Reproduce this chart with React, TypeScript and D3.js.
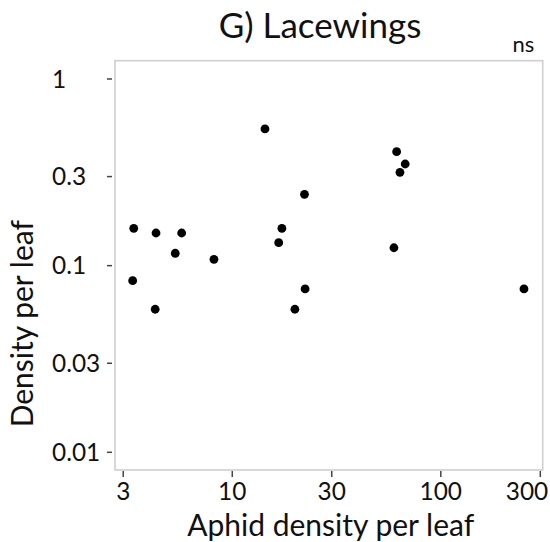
import React from "react";
import * as d3 from "d3";

const aphidDensity = [3.37, 3.33, 4.31, 4.27, 5.72, 5.33, 8.17, 14.35, 22.2, 17.3, 16.7, 22.35, 19.97, 61.4, 67.5, 63.7, 59.6, 250.5];
const lacewingDensity = [0.1585, 0.0831, 0.1496, 0.0584, 0.1496, 0.1165, 0.1081, 0.54, 0.241, 0.1585, 0.1327, 0.075, 0.0584, 0.4078, 0.3504, 0.3163, 0.1247, 0.075];
const xTicks = [3, 10, 30, 100, 300];
const xTickLabels = ["3", "10", "30", "100", "300"];
const yTicks = [1, 0.3, 0.1, 0.03, 0.01];
const yTickLabels = ["1", "0.3", "0.1", "0.03", "0.01"];
const title = "G) Lacewings";
const significance = "ns";
const xTitle = "Aphid density per leaf";
const yTitle = "Density per leaf";

const W = 550;
const H = 542;
const left = 115;
const right = 542.7;
const top = 60.7;
const bottom = 470;
const font = "Lato, 'Open Sans', sans-serif";

export default function App() {
  const x = d3.scaleLog().domain([2.74, 308]).range([left, right]);
  const y = d3.scaleLog().domain([0.00804, 1.253]).range([bottom, top]);
  const points = aphidDensity.map((a, i) => ({ a, l: lacewingDensity[i] }));

  return (
    <svg width={W} height={H} style={{ position: "absolute", left: 0, top: 0, background: "#fff" }}>
      <rect x={0} y={0} width={W} height={H} fill="#fff" />
      <text x={320} y={38} textAnchor="middle" fontFamily={font} fontSize={35} fill="#111">{title}</text>
      <text x={523.5} y={52} textAnchor="middle" fontFamily={font} fontSize={22} fill="#111">{significance}</text>
      <rect x={left} y={top} width={right - left} height={bottom - top} fill="none" stroke="#cfcfcf" strokeWidth={1.6} />
      {yTicks.map((t, i) => (
        <g key={"y" + i}>
          <line x1={107} x2={112} y1={y(t)} y2={y(t)} stroke="#444" strokeWidth={1.5} />
          <text x={52} y={y(t)} dy="0.36em" fontFamily={font} fontSize={24.4} fill="#111">{yTickLabels[i]}</text>
        </g>
      ))}
      {xTicks.map((t, i) => (
        <g key={"x" + i}>
          <line x1={x(t)} x2={x(t)} y1={471} y2={477} stroke="#444" strokeWidth={1.5} />
          <text x={i === xTicks.length - 1 ? 527 : x(t)} y={500} textAnchor="middle" fontFamily={font} fontSize={24.4} fill="#111">{xTickLabels[i]}</text>
        </g>
      ))}
      <text x={330.7} y={536} textAnchor="middle" fontFamily={font} fontSize={30} fill="#111">{xTitle}</text>
      <text transform={`translate(33,323.7) rotate(-90)`} textAnchor="middle" fontFamily={font} fontSize={30} fill="#111">{yTitle}</text>
      {points.map((p, i) => (
        <circle key={i} cx={x(p.a)} cy={y(p.l)} r={4.4} fill="#000" />
      ))}
    </svg>
  );
}
